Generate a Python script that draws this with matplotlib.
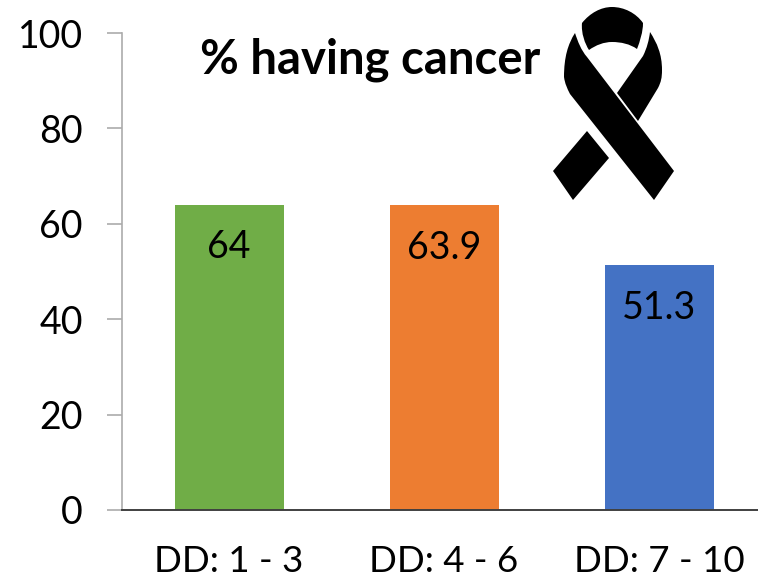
import matplotlib
matplotlib.use("Agg")
import matplotlib.pyplot as plt
from matplotlib.path import Path
from matplotlib.patches import PathPatch

categories = ["DD: 1 - 3", "DD: 4 - 6", "DD: 7 - 10"]
values = [64, 63.9, 51.3]
value_labels = ["64", "63.9", "51.3"]
colors = ["#70AD47", "#ED7D31", "#4472C4"]
yticks = [0, 20, 40, 60, 80, 100]

W, H = 758, 583
plt.rcParams["font.family"] = ["Lato", "DejaVu Sans"]
fig = plt.figure(figsize=(W / 100, H / 100), dpi=100)
ax = fig.add_axes([121.5 / W, 1 - 510 / H, (758 - 121.5) / W, (510 - 33) / H])
ax.set_xlim(-0.5, 2.46)
ax.set_ylim(0, 100)
ax.bar([i + 0.002 for i in range(3)], values, width=0.505, color=colors)
for i, (v, s) in enumerate(zip(values, value_labels)):
    ax.annotate(s, (i, v), xytext=(0, -30.5), textcoords="offset points",
                ha="center", va="center", fontsize=27, color="black")
ax.set_yticks(yticks)
ax.set_xticks(range(3), categories)
ax.tick_params(axis="y", labelsize=27, length=10.8, width=1.2, color="#ABABAB", pad=17)
ax.tick_params(axis="x", labelsize=26.5, length=0, pad=25)
for s in ("top", "right"):
    ax.spines[s].set_visible(False)
ax.spines["left"].set_color("#ABABAB")
ax.spines["left"].set_linewidth(1.2)
ax.spines["bottom"].set_color("#404040")
ax.spines["bottom"].set_linewidth(1.4)
fig.text(370 / W, 1 - 60 / H, "% having cancer", ha="center", va="center",
         fontsize=34, fontweight="bold")

# Awareness ribbon, built from four filled pieces in figure pixel coordinates
def px(x, y):
    return (x / W, 1 - y / H)

def ribbon(points, codes):
    fig.add_artist(PathPatch(Path([px(*p) for p in points], codes),
                             transform=fig.transFigure, fc="black", ec="none"))

M, L, C, Z = Path.MOVETO, Path.LINETO, Path.CURVE4, Path.CLOSEPOLY
# top loop cap
ribbon([(582, 23), (590, 13), (601, 7), (612, 7), (624, 7), (636, 13), (643, 23),
        (643, 32), (640, 41), (637, 49), (630, 44), (621, 42), (612, 42),
        (604, 42), (596, 45), (589, 50), (585, 44), (581, 33), (582, 23), (582, 23)],
       [M, C, C, C, C, C, C, C, C, C, C, C, C, C, C, C, C, C, C, Z])
# long strip from the left of the loop to the lower right
ribbon([(575, 33), (568, 44), (564, 57), (564, 77), (565, 84), (567, 88), (570, 94),
        (654, 200), (674, 171), (587, 57), (581, 50), (578, 42), (575, 33), (575, 33)],
       [M, C, C, C, C, C, C, L, L, L, C, C, C, Z])
# right side of the loop
ribbon([(650, 32), (657, 43), (662, 54), (662, 70), (662, 78), (661, 82), (658, 88),
        (638, 121), (617, 93), (643, 56), (647, 48), (649, 40), (650, 32), (650, 32)],
       [M, C, C, C, C, C, C, L, L, L, C, C, C, Z])
# lower left tail
ribbon([(587, 131), (609, 158), (573, 200), (553, 171), (587, 131)], [M, L, L, L, Z])

fig.savefig("out.png", dpi=100)
